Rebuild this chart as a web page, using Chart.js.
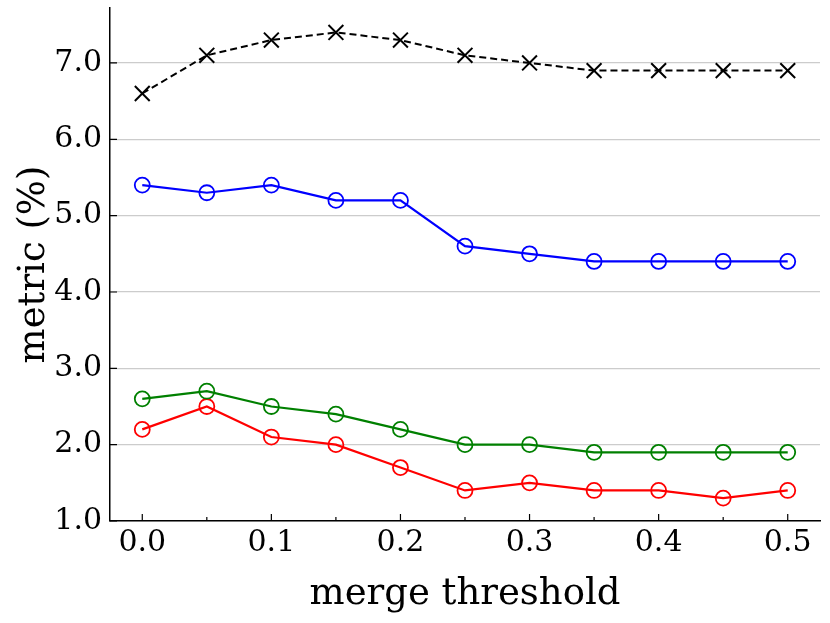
<!DOCTYPE html>
<html>
<head>
<meta charset="utf-8">
<script src="https://cdn.jsdelivr.net/npm/chart.js@4"></script>
<style>
  html, body { margin: 0; padding: 0; background: #fff; }
  #wrap { width: 830px; height: 623px; }
</style>
</head>
<body>
<div id="wrap"><canvas id="chart"></canvas></div>
<script>
// merge thresholds on the x axis
const thresholds = [0.0, 0.05, 0.1, 0.15, 0.2, 0.25, 0.3, 0.35, 0.4, 0.45, 0.5];
const blackSeries = [6.6, 7.1, 7.3, 7.4, 7.3, 7.1, 7.0, 6.9, 6.9, 6.9, 6.9];
const blueSeries  = [5.4, 5.3, 5.4, 5.2, 5.2, 4.6, 4.5, 4.4, 4.4, 4.4, 4.4];
const greenSeries = [2.6, 2.7, 2.5, 2.4, 2.2, 2.0, 2.0, 1.9, 1.9, 1.9, 1.9];
const redSeries   = [2.2, 2.5, 2.1, 2.0, 1.7, 1.4, 1.5, 1.4, 1.4, 1.3, 1.4];
const xMajorTicks = [0.0, 0.1, 0.2, 0.3, 0.4, 0.5];
const yTicks = [1, 2, 3, 4, 5, 6, 7];

const FONT = "'DejaVu Serif', serif";

function pts(values) {
    return values.map((v, i) => ({ x: thresholds[i], y: v }));
}

// matplotlib style ticks pointing into the plot
const innerTicks = {
    id: 'innerTicks',
    afterDraw(chart) {
        const { ctx, scales: { x, y } } = chart;
        ctx.save();
        ctx.strokeStyle = '#000';
        ctx.lineWidth = 1.2;
        ctx.beginPath();
        thresholds.forEach(v => {
            const px = x.getPixelForValue(v);
            const major = xMajorTicks.some(m => Math.abs(m - v) < 1e-9);
            ctx.moveTo(px, y.bottom);
            ctx.lineTo(px, y.bottom - (major ? 7 : 4));
        });
        yTicks.forEach(v => {
            const py = y.getPixelForValue(v);
            ctx.moveTo(x.left, py);
            ctx.lineTo(x.left + 7, py);
        });
        ctx.stroke();
        ctx.restore();
    }
};

const circleSet = (data, color) => ({
    data: pts(data),
    borderColor: color,
    borderWidth: 2.2,
    pointStyle: 'circle',
    pointRadius: 7.5,
    pointBorderWidth: 1.8,
    pointBackgroundColor: 'rgba(0,0,0,0)',
    pointBorderColor: color
});

new Chart(document.getElementById('chart'), {
    type: 'line',
    data: {
        datasets: [
            {
                data: pts(blackSeries),
                borderColor: '#000',
                borderWidth: 2,
                borderDash: [7, 4],
                pointStyle: 'crossRot',
                pointRadius: 10.5,
                pointBorderWidth: 2,
                pointBorderColor: '#000'
            },
            circleSet(blueSeries, '#0000ff'),
            circleSet(greenSeries, '#008000'),
            circleSet(redSeries, '#ff0000')
        ]
    },
    options: {
        responsive: true,
        maintainAspectRatio: false,
        animation: false,
        layout: { autoPadding: false, padding: { top: 8, right: 10, left: 0, bottom: 0 } },
        plugins: { legend: { display: false }, tooltip: { enabled: false } },
        scales: {
            x: {
                type: 'linear',
                min: -0.025,
                max: 0.525,
                afterBuildTicks: s => { s.ticks = xMajorTicks.map(v => ({ value: v })); },
                afterFit: s => { s.height = 102; s.paddingLeft = 0; s.paddingRight = 0; },
                grid: { display: false, drawTicks: false },
                border: { display: true, color: '#000', width: 1.5 },
                ticks: {
                    padding: 4,
                    color: '#000',
                    font: { family: FONT, size: 30 },
                    callback: v => Number(v).toFixed(1)
                },
                title: {
                    display: true,
                    text: 'merge threshold',
                    color: '#000',
                    font: { family: FONT, size: 37 },
                    padding: { top: 0, bottom: 6 }
                }
            },
            y: {
                min: 1.0,
                max: 7.72,
                afterBuildTicks: s => { s.ticks = yTicks.map(v => ({ value: v })); },
                afterFit: s => { s.width = 110; s.paddingTop = 0; s.paddingBottom = 0; },
                grid: { color: '#cccccc', lineWidth: 1.2, drawTicks: false },
                border: { display: true, color: '#000', width: 1.5 },
                ticks: {
                    padding: 8,
                    color: '#000',
                    font: { family: FONT, size: 30 },
                    callback: v => Number(v).toFixed(1)
                },
                title: {
                    display: true,
                    text: 'metric (%)',
                    color: '#000',
                    font: { family: FONT, size: 37 },
                    padding: { top: 12, bottom: 0 }
                }
            }
        }
    },
    plugins: [innerTicks]
});
</script>
</body>
</html>
